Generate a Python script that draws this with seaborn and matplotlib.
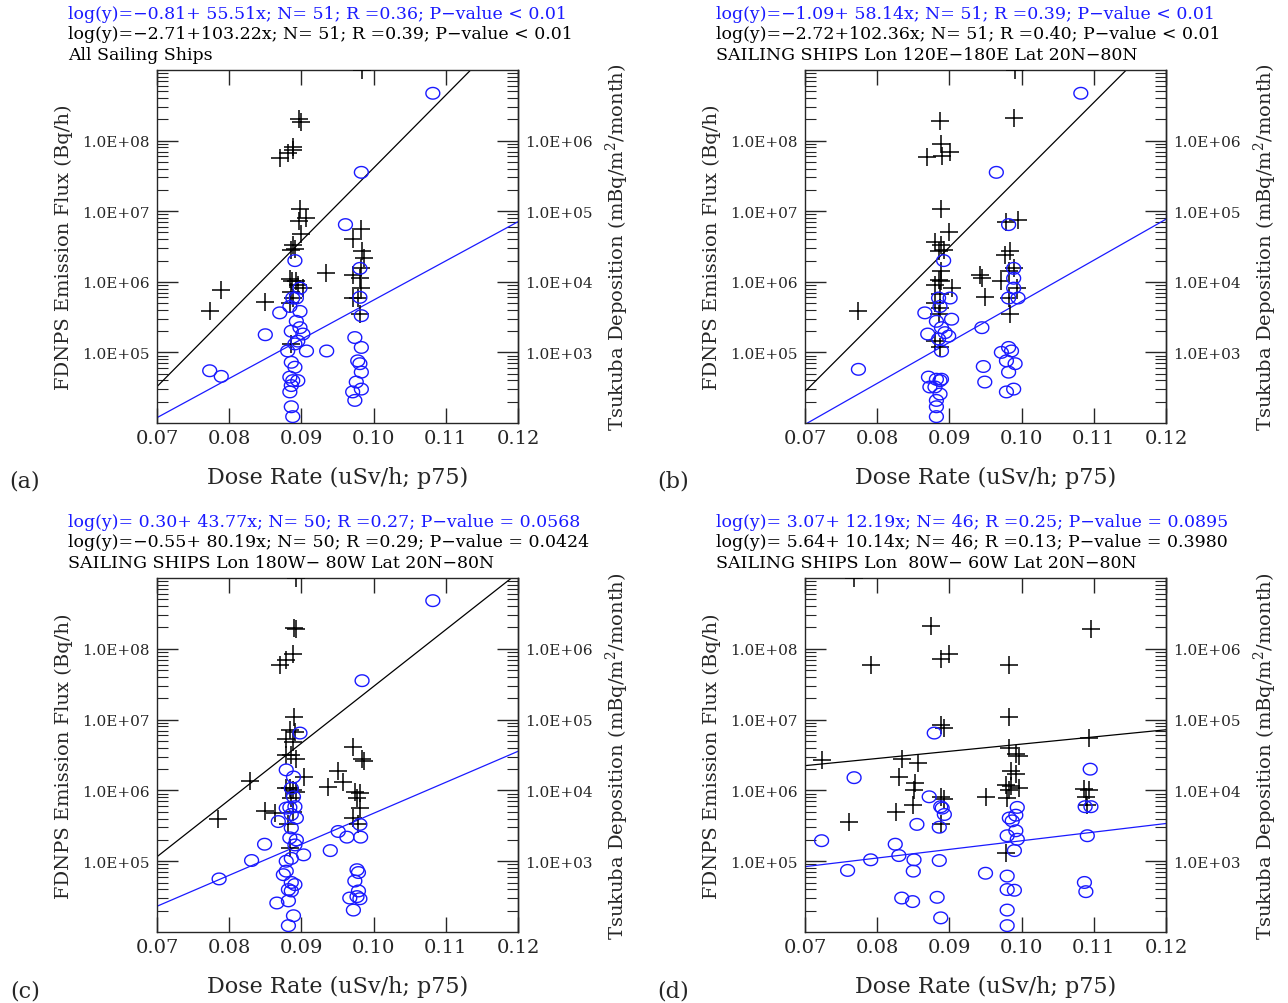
import numpy as np
import matplotlib
matplotlib.use("Agg")
import matplotlib.pyplot as plt
import seaborn as sns
from matplotlib.path import Path
from matplotlib.ticker import FixedLocator, FuncFormatter, LogLocator, MultipleLocator, NullFormatter

# Data
# crosses = FDNPS emission flux, log10(Bq/h), left axis
# circles = Tsukuba deposition, log10(mBq/m2/month), right axis

# (a) all sailing ships
a_flux_x = [0.0984, 0.0897, 0.0899, 0.0889, 0.0889, 0.0881, 0.0870, 0.0898, 0.0907, 0.0897,
            0.0900, 0.0888, 0.0891, 0.0886, 0.0884, 0.0887, 0.0893, 0.0895, 0.0902, 0.0886,
            0.0888, 0.0884, 0.0886, 0.0934, 0.0850, 0.0789, 0.0773, 0.0971, 0.0983, 0.0984,
            0.0986, 0.0983, 0.0971, 0.0981, 0.0978, 0.0971, 0.0981, 0.0983]
a_flux_y = [9.00, 8.31, 8.27, 7.91, 7.87, 7.82, 7.76, 7.03, 6.90, 6.86,
            6.68, 6.52, 6.47, 6.45, 6.04, 6.01, 6.01, 5.96, 5.91, 5.86,
            5.77, 5.70, 5.12, 6.12, 5.72, 5.88, 5.59, 6.61, 6.75, 6.43,
            6.33, 6.19, 6.10, 6.05, 5.77, 5.77, 5.54, 5.91]
a_dep_x = [0.1082, 0.0983, 0.0961, 0.0891, 0.0981, 0.0898, 0.0888, 0.0893, 0.0884, 0.0898,
           0.0870, 0.0981, 0.0983, 0.0893, 0.0898, 0.0902, 0.0886, 0.0895, 0.0891, 0.0850,
           0.0907, 0.0881, 0.0935, 0.0974, 0.0983, 0.0978, 0.0981, 0.0983, 0.0976, 0.0983,
           0.0971, 0.0974, 0.0886, 0.0891, 0.0884, 0.0888, 0.0895, 0.0886, 0.0884, 0.0886,
           0.0888, 0.0773, 0.0789]
a_dep_y = [6.67, 5.55, 4.81, 4.30, 4.19, 3.91, 3.77, 3.77, 3.65, 3.58,
           3.56, 3.78, 3.52, 3.44, 3.35, 3.26, 3.30, 3.16, 3.12, 3.25,
           3.02, 3.02, 3.02, 3.21, 3.07, 2.88, 2.84, 2.72, 2.58, 2.48,
           2.44, 2.32, 2.86, 2.79, 2.65, 2.60, 2.60, 2.53, 2.44, 2.23,
           2.09, 2.74, 2.66]

# (b) 120E-180E
b_flux_x = [0.0991, 0.0990, 0.0887, 0.0889, 0.0901, 0.0890, 0.0869, 0.0888, 0.0899, 0.0880,
            0.0889, 0.0892, 0.0885, 0.0889, 0.0885, 0.0889, 0.0880, 0.0903, 0.0887, 0.0880,
            0.0887, 0.0885, 0.0880, 0.0887, 0.0942, 0.0945, 0.0949, 0.0774, 0.0979, 0.0995,
            0.0984, 0.0977, 0.0989, 0.0982, 0.0993, 0.0972, 0.0982, 0.0984]
b_flux_y = [9.00, 8.32, 8.28, 7.95, 7.84, 7.78, 7.77, 7.03, 6.71, 6.57,
            6.52, 6.45, 6.43, 6.15, 6.03, 6.01, 5.96, 5.91, 5.82, 5.70,
            5.63, 5.54, 5.16, 5.07, 6.10, 6.05, 5.79, 5.59, 6.85, 6.87,
            6.43, 6.38, 6.19, 6.15, 5.91, 6.01, 5.77, 5.54]
b_dep_x = [0.1082, 0.0965, 0.0982, 0.0892, 0.0989, 0.0989, 0.0989, 0.0995, 0.0982, 0.0901,
           0.0885, 0.0887, 0.0866, 0.0882, 0.0903, 0.0889, 0.0894, 0.0899, 0.0870, 0.0885,
           0.0889, 0.0945, 0.0947, 0.0949, 0.0982, 0.0986, 0.0972, 0.0979, 0.0991, 0.0982,
           0.0979, 0.0989, 0.0871, 0.0882, 0.0887, 0.0873, 0.0880, 0.0887, 0.0882, 0.0882,
           0.0882, 0.0774, 0.0889]
b_dep_y = [6.67, 5.55, 4.81, 4.30, 4.19, 4.05, 3.91, 3.77, 3.77, 3.77,
           3.77, 3.65, 3.56, 3.44, 3.47, 3.35, 3.28, 3.23, 3.26, 3.19,
           3.02, 3.35, 2.80, 2.58, 3.07, 3.02, 3.00, 2.88, 2.84, 2.72,
           2.44, 2.48, 2.65, 2.62, 2.60, 2.51, 2.51, 2.41, 2.32, 2.23,
           2.09, 2.76, 2.62]

# (c) 180W-80W
c_flux_x = [0.0893, 0.0890, 0.0893, 0.0889, 0.0879, 0.0870, 0.0890, 0.0884, 0.0891, 0.0879,
            0.0889, 0.0879, 0.0886, 0.0893, 0.0903, 0.0884, 0.0879, 0.0889, 0.0893, 0.0886,
            0.0889, 0.0882, 0.0884, 0.0829, 0.0849, 0.0863, 0.0785, 0.0972, 0.0986, 0.0984,
            0.0951, 0.0958, 0.0937, 0.0974, 0.0981, 0.0977, 0.0981, 0.0979, 0.0972]
c_flux_y = [9.00, 8.30, 8.28, 7.93, 7.84, 7.77, 7.04, 6.85, 6.83, 6.73,
            6.69, 6.50, 6.50, 6.45, 6.19, 6.03, 6.03, 6.01, 5.98, 5.89,
            5.70, 5.52, 5.19, 6.13, 5.71, 5.68, 5.59, 6.62, 6.42, 6.45,
            6.27, 6.12, 6.05, 5.98, 5.96, 5.89, 5.75, 5.52, 5.61]
c_dep_x = [0.1082, 0.0984, 0.0898, 0.0879, 0.0889, 0.0886, 0.0889, 0.0879, 0.0884, 0.0891,
           0.0886, 0.0893, 0.0868, 0.0886, 0.0884, 0.0893, 0.0891, 0.0903, 0.0886, 0.0879,
           0.0879, 0.0875, 0.0886, 0.0891, 0.0882, 0.0886, 0.0866, 0.0882, 0.0889, 0.0882,
           0.0849, 0.0831, 0.0786, 0.0951, 0.0963, 0.0940, 0.0981, 0.0982, 0.0977, 0.0979,
           0.0974, 0.0979, 0.0967, 0.0981, 0.0972, 0.0977]
c_dep_y = [6.68, 5.55, 4.81, 4.29, 4.19, 4.03, 3.91, 3.75, 3.76, 3.77,
           3.66, 3.61, 3.56, 3.47, 3.33, 3.30, 3.23, 3.09, 3.04, 3.00,
           2.86, 2.81, 2.70, 2.67, 2.60, 2.58, 2.41, 2.44, 2.23, 2.09,
           3.24, 3.01, 2.75, 3.42, 3.34, 3.15, 3.52, 3.34, 2.88, 2.84,
           2.72, 2.58, 2.48, 2.47, 2.31, 2.50]

# (d) 80W-60W
d_flux_x = [0.0768, 0.0874, 0.1096, 0.0899, 0.0889, 0.0792, 0.0983, 0.0983, 0.0888, 0.0893,
            0.1094, 0.0724, 0.0835, 0.0856, 0.0830, 0.0853, 0.0851, 0.0849, 0.0826, 0.0761,
            0.0888, 0.0893, 0.0888, 0.0950, 0.0983, 0.0992, 0.0997, 0.0992, 0.0978, 0.0985,
            0.0997, 0.0983, 0.0980, 0.0978, 0.1087, 0.1094, 0.1089, 0.1091, 0.0985]
d_flux_y = [9.00, 8.32, 8.28, 7.93, 7.85, 7.77, 7.77, 7.04, 6.92, 6.88,
            6.74, 6.43, 6.44, 6.39, 6.19, 6.10, 6.01, 5.79, 5.70, 5.56,
            5.90, 5.88, 5.52, 5.90, 6.60, 6.52, 6.48, 6.23, 6.08, 6.06,
            6.03, 6.01, 5.89, 5.12, 6.02, 6.01, 5.91, 5.80, 6.27]
d_dep_x = [0.0879, 0.1095, 0.0768, 0.0872, 0.0888, 0.0890, 0.0893, 0.0855, 0.0886, 0.0723,
           0.0825, 0.0830, 0.0791, 0.0851, 0.0886, 0.0759, 0.0850, 0.0950, 0.0834, 0.0849,
           0.0883, 0.0888, 0.0994, 0.0992, 0.0983, 0.0987, 0.0992, 0.0980, 0.0994, 0.0990,
           0.0980, 0.0980, 0.0990, 0.0980, 0.0980, 0.1088, 0.1096, 0.1091, 0.1087, 0.1089]
d_dep_y = [4.81, 4.30, 4.18, 3.91, 3.77, 3.75, 3.66, 3.52, 3.48, 3.29,
           3.24, 3.08, 3.02, 3.02, 3.01, 2.87, 2.86, 2.83, 2.48, 2.43,
           2.49, 2.20, 3.76, 3.65, 3.61, 3.57, 3.43, 3.36, 3.31, 3.15,
           2.79, 2.60, 2.59, 2.31, 2.09, 3.77, 3.77, 3.36, 2.70, 2.57]

# fit results printed above each panel
dep_a0 = [-0.81, -1.09, 0.30, 3.07]
dep_a1 = [55.51, 58.14, 43.77, 12.19]
dep_r = [0.36, 0.39, 0.27, 0.25]
dep_p = ["< 0.01", "< 0.01", "= 0.0568", "= 0.0895"]
flux_a0 = [-2.71, -2.72, -0.55, 5.64]
flux_a1 = [103.22, 102.36, 80.19, 10.14]
flux_r = [0.39, 0.40, 0.29, 0.13]
flux_p = ["< 0.01", "< 0.01", "= 0.0424", "= 0.3980"]
n_obs = [51, 51, 50, 46]
regions = ["All Sailing Ships",
           "SAILING SHIPS Lon 120E\u2212180E Lat 20N\u221280N",
           "SAILING SHIPS Lon 180W\u2212 80W Lat 20N\u221280N",
           "SAILING SHIPS Lon  80W\u2212 60W Lat 20N\u221280N"]
tags = ["(a)", "(b)", "(c)", "(d)"]

flux_x = [a_flux_x, b_flux_x, c_flux_x, d_flux_x]
flux_y = [a_flux_y, b_flux_y, c_flux_y, d_flux_y]
dep_x = [a_dep_x, b_dep_x, c_dep_x, d_dep_x]
dep_y = [a_dep_y, b_dep_y, c_dep_y, d_dep_y]

# right axis = left axis / 100; the deposition fit line sits one decade
# below its printed intercept on the right scale
SCALE = 100.0
DEP_SHIFT = -1.0

sns.set_style("ticks")
plt.rcParams["font.family"] = "DejaVu Serif"
plt.rcParams["mathtext.fontset"] = "dejavuserif"

BLUE = "#1a1aff"
t = np.linspace(0, 2 * np.pi, 41)
ellipse = Path(np.column_stack([np.cos(t), 0.84 * np.sin(t)]))

fig = plt.figure(figsize=(12.88, 10.04), dpi=100)
rects = [[0.1219, 0.5777, 0.2803, 0.3516], [0.6250, 0.5777, 0.2803, 0.3516],
         [0.1219, 0.0707, 0.2803, 0.3526], [0.6250, 0.0707, 0.2803, 0.3526]]

sci = FuncFormatter(lambda v, pos: f"{v:.1E}")


def eq_text(a0, a1, n, r, p):
    s = f"log(y)={a0:5.2f}+{a1:6.2f}x; N={n:3d}; R ={r:.2f}; P-value {p}"
    return s.replace("-", "\u2212")


for i in range(4):
    ax = fig.add_axes(rects[i])
    ax.set_yscale("log")

    sns.scatterplot(x=flux_x[i], y=10 ** np.array(flux_y[i]), marker="+", color="black",
                    s=150, linewidth=1.1, ax=ax, zorder=3)
    sns.scatterplot(x=dep_x[i], y=10 ** np.array(dep_y[i]) * SCALE, marker=ellipse,
                    color=BLUE, facecolors="none", edgecolor=BLUE, s=100, linewidth=1.0,
                    ax=ax, zorder=3)

    xf = np.array([0.07, 0.12])
    sns.lineplot(x=xf, y=10 ** (flux_a0[i] + flux_a1[i] * xf), color="black", lw=0.9, ax=ax)
    sns.lineplot(x=xf, y=10 ** (dep_a0[i] + dep_a1[i] * xf + DEP_SHIFT) * SCALE,
                 color=BLUE, lw=0.9, ax=ax)

    ax.set_xlim(0.07, 0.12)
    ax.set_ylim(1e4, 1e9)
    ax.xaxis.set_major_locator(MultipleLocator(0.01))
    ax.xaxis.set_major_formatter(FuncFormatter(lambda v, pos: f"{v:.2f}"))
    ax.yaxis.set_major_locator(FixedLocator([1e5, 1e6, 1e7, 1e8]))
    ax.yaxis.set_major_formatter(sci)
    ax.yaxis.set_minor_locator(LogLocator(base=10, subs=np.arange(2, 10)))
    ax.yaxis.set_minor_formatter(NullFormatter())
    ax.tick_params(axis="x", which="major", direction="in", length=11, width=1,
                   top=True, labelsize=14, pad=4)
    ax.tick_params(axis="x", which="minor", bottom=False, top=False)
    ax.tick_params(axis="y", which="major", direction="in", length=15, width=1,
                   right=False, labelsize=11, pad=5)
    ax.tick_params(axis="y", which="minor", direction="in", length=8, width=0.8, right=False)
    for sp in ax.spines.values():
        sp.set_linewidth(1.0)
        sp.set_visible(True)

    sec = ax.secondary_yaxis("right", functions=(lambda v: v / SCALE, lambda v: v * SCALE))
    sec.yaxis.set_major_locator(FixedLocator([1e3, 1e4, 1e5, 1e6]))
    sec.yaxis.set_major_formatter(sci)
    sec.yaxis.set_minor_locator(LogLocator(base=10, subs=np.arange(2, 10)))
    sec.yaxis.set_minor_formatter(NullFormatter())
    sec.tick_params(which="major", direction="in", length=15, width=1, labelsize=11, pad=5)
    sec.tick_params(which="minor", direction="in", length=8, width=0.8)
    sec.spines["right"].set_linewidth(1.0)

    ax.set_xlabel("Dose Rate (uSv/h; p75)", fontsize=16)
    ax.xaxis.set_label_coords(0.5, -0.122)
    ax.set_ylabel("FDNPS Emission Flux (Bq/h)", fontsize=14)
    ax.yaxis.set_label_coords(-0.233, 0.5)
    ax.text(1.274, 0.5, "Tsukuba Deposition (mBq/m$^2$/month)", transform=ax.transAxes,
            rotation=90, fontsize=14, va="center", ha="center")

    ax.text(-0.2465, 1.161, eq_text(dep_a0[i], dep_a1[i], n_obs[i], dep_r[i], dep_p[i]),
            transform=ax.transAxes, color=BLUE, fontsize=12.5, va="center", ha="left")
    ax.text(-0.2465, 1.102, eq_text(flux_a0[i], flux_a1[i], n_obs[i], flux_r[i], flux_p[i]),
            transform=ax.transAxes, color="black", fontsize=12.5, va="center", ha="left")
    ax.text(-0.2465, 1.045, regions[i], transform=ax.transAxes, color="black",
            fontsize=12.5, va="center", ha="left")
    ax.text(-0.366, -0.164, tags[i], transform=ax.transAxes, fontsize=16,
            va="center", ha="center")

fig.savefig("out.png", dpi=100)
